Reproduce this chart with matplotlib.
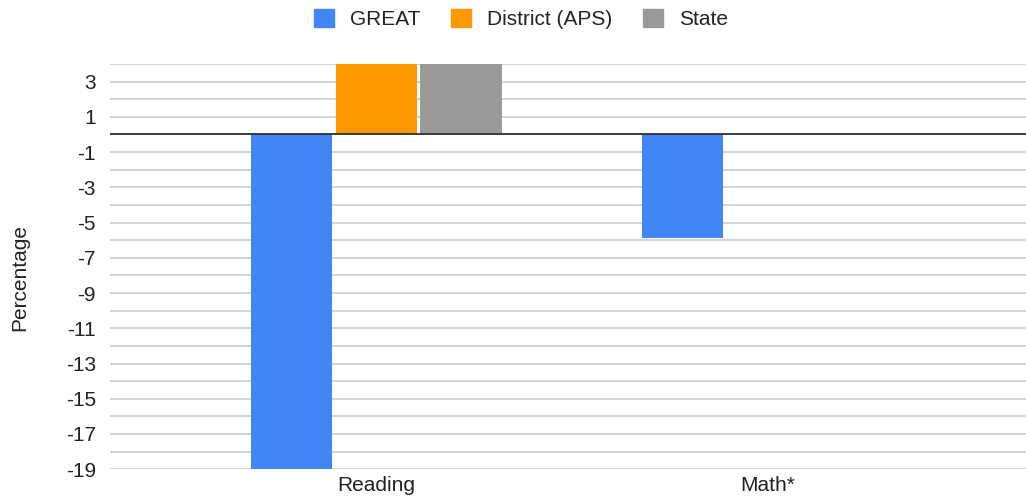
import numpy as np
from matplotlib import pyplot as plt
from matplotlib.patches import Patch

categories = ["Reading", "Math*"]
series = ["GREAT", "District (APS)", "State"]
great = [-19, -5.9]
district = [4, 0]
state = [4, 0]
colors = ["#4285F4", "#FF9900", "#999999"]

plt.rcParams['font.family'] = ['Liberation Sans', 'DejaVu Sans']
plt.rcParams['axes.unicode_minus'] = False

fig = plt.figure(figsize=(10.26, 5.04), dpi=100)
ax = fig.add_axes([0.107, 0.069, 0.893, 0.804])

x = np.arange(len(categories))
w = 0.207
step = 0.217
for i, (vals, col) in enumerate(zip([great, district, state], colors)):
    ax.bar(x + (i - 1) * step, vals, width=w, color=col, zorder=3)

ax.set_ylim(-19, 4)
ax.set_xlim(-0.68, 1.66)
ax.set_yticks(np.arange(3, -20, -2))
ax.set_yticks(np.arange(4, -20, -1), minor=True)
ax.grid(axis='y', which='both', color='#cccccc', linewidth=1.2, zorder=0)
ax.tick_params(axis='y', which='both', length=0, labelsize=15, colors='#222222', pad=10)
ax.tick_params(axis='x', length=0, labelsize=15, colors='#222222', pad=5)
ax.set_xticks(x)
ax.set_xticklabels(categories)
ax.axhline(0, color='#333333', linewidth=1.3, zorder=4)
for s in ax.spines.values():
    s.set_visible(False)

fig.text(0.019, 0.45, "Percentage", rotation=90, va='center', ha='center',
         fontsize=15, color='#222222')

handles = [Patch(facecolor=c, edgecolor=c) for c in colors]
fig.legend(handles, series, loc='center', bbox_to_anchor=(0.508, 0.962), ncol=3,
           frameon=False, fontsize=15, handlelength=0.95, handleheight=0.95,
           columnspacing=1.45, handletextpad=0.8, labelcolor='#222222')

plt.savefig("out.png", dpi=100)
